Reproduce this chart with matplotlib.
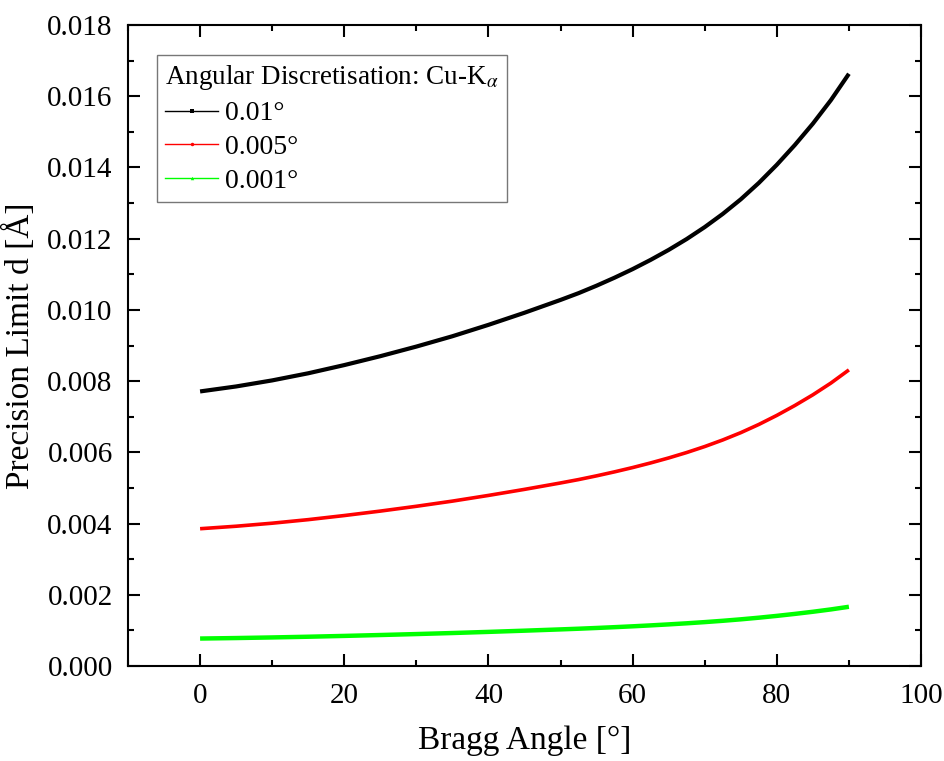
import matplotlib
matplotlib.use("Agg")
import matplotlib.pyplot as plt
import numpy as np
from matplotlib.lines import Line2D
from matplotlib.ticker import MultipleLocator, FormatStrFormatter

plt.rcParams['font.family'] = ['Liberation Serif', 'DejaVu Serif']
plt.rcParams['mathtext.fontset'] = 'stix'

# Bragg angle (deg) and precision limits (values in units of 1e-3 Å)
angle = [0, 5, 10, 15, 20, 25, 30, 35, 40, 45, 50, 52.5, 55, 57.5, 60, 62.5, 65, 67.5,
         70, 72.5, 75, 77.5, 80, 82.5, 85, 87.5, 90]
d_001 = [7.71, 7.85, 8.02, 8.22, 8.45, 8.70, 8.97, 9.26, 9.58, 9.92, 10.28, 10.47, 10.68,
         10.905, 11.145, 11.405, 11.685, 11.99, 12.325, 12.695, 13.105, 13.565, 14.075,
         14.63, 15.23, 15.89, 16.63]
d_0005 = [3.855, 3.925, 4.01, 4.11, 4.225, 4.35, 4.485, 4.63, 4.79, 4.96, 5.14, 5.235, 5.34,
          5.4525, 5.5725, 5.7025, 5.8425, 5.995, 6.1625, 6.3475, 6.5525, 6.7825, 7.0375,
          7.315, 7.615, 7.945, 8.315]
d_0001 = [0.771, 0.785, 0.802, 0.822, 0.845, 0.870, 0.897, 0.926, 0.958, 0.992, 1.028, 1.047,
          1.068, 1.0905, 1.1145, 1.1405, 1.1685, 1.199, 1.2325, 1.2695, 1.3105, 1.3565,
          1.4075, 1.463, 1.523, 1.589, 1.663]
labels = ['0.01°', '0.005°', '0.001°']
colors = ['#000000', '#FF0000', '#00FF00']
markers = ['s', 'o', '^']

fig = plt.figure(figsize=(9.44, 7.61), dpi=100)
ax = fig.add_axes([128/944, 1-666/761, (921-128)/944, (666-25)/761])

for y, c, lw in zip([d_001, d_0005, d_0001], colors, [3.0, 2.6, 3.2]):
    ax.plot(angle, np.array(y) * 1e-3, color=c, lw=lw, solid_capstyle='butt',
            solid_joinstyle='round')

ax.set_xlim(-10, 100)
ax.set_ylim(0, 0.018)
ax.xaxis.set_major_locator(MultipleLocator(20))
ax.xaxis.set_minor_locator(MultipleLocator(10))
ax.yaxis.set_major_locator(MultipleLocator(0.002))
ax.yaxis.set_minor_locator(MultipleLocator(0.001))
ax.yaxis.set_major_formatter(FormatStrFormatter('%.3f'))

ax.tick_params(which='both', direction='in', top=True, right=True, width=1.5, colors='black',
               labelsize=21)
ax.tick_params(which='major', length=8.5)
ax.tick_params(which='minor', length=4.3)
ax.tick_params(axis='y', pad=11)
ax.tick_params(axis='x', pad=12)
for s in ax.spines.values():
    s.set_linewidth(1.5)

ax.set_xlabel('Bragg Angle [°]', fontsize=24, labelpad=12)
ax.set_ylabel('Precision Limit d [Å]', fontsize=24, labelpad=8)

handles = [Line2D([], [], color=c, lw=1.0, marker=m, ms=2.5, markeredgewidth=0)
           for c, m in zip(colors, markers)]
leg = ax.legend(handles, labels, loc='upper left', bbox_to_anchor=(0.0366, 0.953),
                borderaxespad=0, fontsize=20, title='Angular Discretisation: Cu-K$_{\\alpha}$',
                title_fontsize=19.5, alignment='left', frameon=True, fancybox=False,
                handlelength=1.9, handletextpad=0.25, labelspacing=0.3, borderpad=0.3,
                numpoints=1)
leg.get_frame().set_edgecolor('#555555')
leg.get_frame().set_linewidth(1.0)

fig.savefig('out.png', dpi=100)
